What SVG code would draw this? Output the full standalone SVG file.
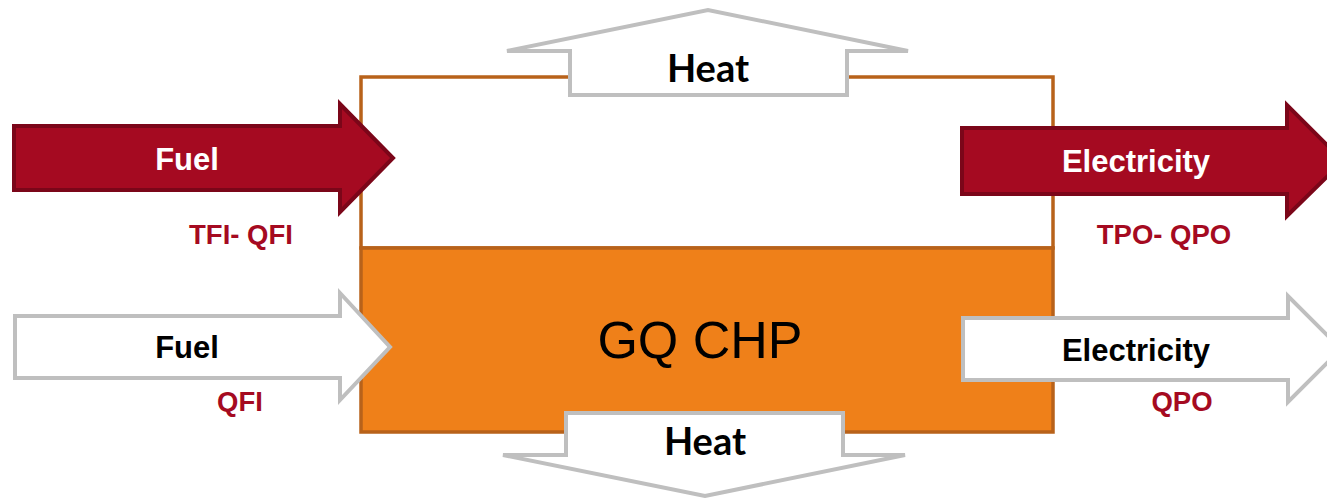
<svg xmlns="http://www.w3.org/2000/svg" width="1327" height="498" viewBox="0 0 1327 498">
<style>
.red{fill:#A50A21;stroke:#7B0619;stroke-width:4;stroke-linejoin:miter}
.wht{fill:#FFFFFF;stroke:#BFBFBF;stroke-width:4;stroke-linejoin:miter}
.lbl{font-family:"Liberation Sans",Arial,sans-serif;font-weight:bold;font-size:31px;text-anchor:middle}
.val{font-family:"Liberation Sans",Arial,sans-serif;font-weight:bold;font-size:27.5px;fill:#A50A21;text-anchor:middle}
.heat{font-family:Lato,"Liberation Sans",sans-serif;font-weight:bold;font-size:38px;fill:#000;text-anchor:middle}
</style>
<rect width="1327" height="498" fill="#FFFFFF"/>
<g id="chp-box">
<rect x="361" y="77" width="692" height="171" fill="#FFFFFF" stroke="#B8621A" stroke-width="3.5"/>
<rect x="361" y="248" width="692" height="184" fill="#EF8019" stroke="#B8621A" stroke-width="3.5"/>
<text x="700" y="358" font-family="'Liberation Sans',Arial,sans-serif" font-size="52" text-anchor="middle" fill="#000">GQ CHP</text>
</g>
<g id="connectors">
<g id="fuel-total">
<polygon class="red" points="14,126 340,126 340,104 393,158 340,212 340,190 14,190"/>
<text class="lbl" x="187" y="170" fill="#FFFFFF">Fuel</text>
<text class="val" x="241" y="244">TFI- QFI</text>
</g>
<g id="fuel-qual">
<polygon class="wht" points="15,316 340,316 340,293 390,347 340,400 340,378 15,378"/>
<text class="lbl" x="187" y="358" fill="#000">Fuel</text>
<text class="val" x="240" y="411">QFI</text>
</g>
<g id="elec-total">
<polygon class="red" points="962,128 1287,128 1287,105 1343,161 1287,216 1287,194 962,194"/>
<text class="lbl" x="1136" y="172" fill="#FFFFFF">Electricity</text>
<text class="val" x="1164" y="244">TPO- QPO</text>
</g>
<g id="elec-qual">
<polygon class="wht" points="963,318 1288,318 1288,296 1341,349 1288,402 1288,380 963,380"/>
<text class="lbl" x="1136" y="361" fill="#000">Electricity</text>
<text class="val" x="1182" y="411">QPO</text>
</g>
<g id="heat-top">
<polygon class="wht" points="570,95 847,95 847,51 908,51 708,10 507,51 570,51"/>
<text class="heat" x="708" y="82">Heat</text>
</g>
<g id="heat-bottom">
<polygon class="wht" points="566,413 843,413 843,455 905,455 705,496 503,455 566,455"/>
<text class="heat" x="705" y="455">Heat</text>
</g>
</g>
</svg>
